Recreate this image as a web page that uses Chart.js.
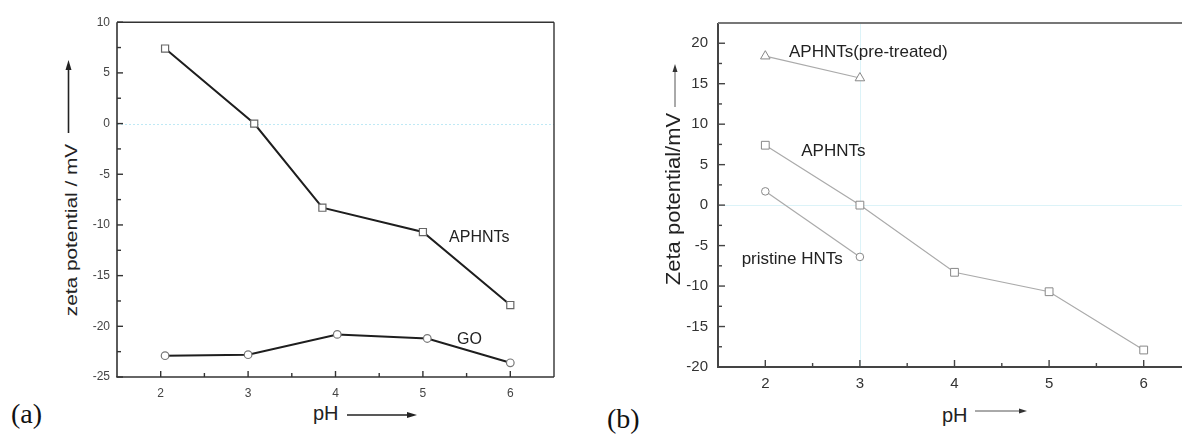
<!DOCTYPE html>
<html>
<head>
<meta charset="utf-8">
<script src="https://cdn.jsdelivr.net/npm/chart.js@4.4.0/dist/chart.umd.min.js"></script>
<style>
  html, body { margin: 0; padding: 0; background: #fff; }
  body { width: 1182px; height: 436px; overflow: hidden; position: relative; font-family: Arial, "Liberation Sans", sans-serif; }
  canvas { position: absolute; }
  #chartA { left: 80px; top: 8px; }
  #chartB { left: 680px; top: 4px; }
  .txt { position: absolute; white-space: nowrap; line-height: 1; color: #222; }
  .serif { font-family: "Liberation Serif", "Times New Roman", serif; font-size: 28px; color: #111; }
  svg { position: absolute; left: 0; top: 0; }
</style>
</head>
<body>
<canvas id="chartA" width="490" height="394"></canvas>
<canvas id="chartB" width="530" height="396"></canvas>

<!-- axis titles -->
<div class="txt" style="left:72px; top:230px; font-size:16px; transform:translate(-50%,-50%) rotate(-90deg) scaleX(1.3);">zeta potential / mV</div>
<div class="txt" style="left:313px; top:403px; font-size:20px;">pH</div>
<div class="txt" style="left:673px; top:199px; font-size:20px; transform:translate(-50%,-50%) rotate(-90deg) scaleX(1.1);">Zeta potential/mV</div>
<div class="txt" style="left:942px; top:405px; font-size:20px;">pH</div>
<div class="txt serif" style="left:11px; top:400px;">(a)</div>
<div class="txt serif" style="left:607px; top:405px;">(b)</div>

<svg width="1182" height="436">
  <g stroke="#222" stroke-width="1.6" fill="#222">
    <line x1="68.5" y1="133" x2="68.5" y2="68" />
    <polygon points="68.5,60 65.5,70 71.5,70" stroke="none" />
    <line x1="347" y1="415" x2="409" y2="415" />
    <polygon points="417,415 407,412 407,418" stroke="none" />
  </g>
  <g stroke="#555" stroke-width="1" fill="#333">
    <line x1="675" y1="107" x2="675" y2="71" />
    <polygon points="675,64 672.5,72 677.5,72" stroke="none" />
    <line x1="975" y1="411" x2="1020" y2="411" />
    <polygon points="1027,411 1019,408.5 1019,413.5" stroke="none" />
  </g>
</svg>

<script>
// (a) APHNTs and GO
const phApA = [2.05, 3.07, 3.85, 5.0, 6.0];
const aphntsA = [7.4, 0, -8.3, -10.7, -17.9];
const phGoA = [2.05, 3.0, 4.02, 5.05, 6.0];
const goA = [-22.9, -22.8, -20.8, -21.2, -23.6];
const xTicksA = [2, 3, 4, 5, 6];
const yTicksA = [-25, -20, -15, -10, -5, 0, 5, 10];

// (b) pre-treated, APHNTs, pristine HNTs
const phPreB = [2, 3];
const preTreatedB = [18.4, 15.7];
const phApB = [2, 3, 4, 5, 6];
const aphntsB = [7.4, 0, -8.3, -10.7, -17.9];
const phHntB = [2, 3];
const pristineB = [1.7, -6.4];
const xTicksB = [2, 3, 4, 5, 6];
const yTicksB = [-20, -15, -10, -5, 0, 5, 10, 15, 20];

const FONT = 'Arial, "Liberation Sans", sans-serif';

function toPoints(xs, ys) {
  return xs.map((x, i) => ({ x: x, y: ys[i] }));
}

function midpoints(arr) {
  const out = [];
  for (let i = 0; i < arr.length - 1; i++) out.push((arr[i] + arr[i + 1]) / 2);
  return out;
}

// frame, inward ticks, reference lines and in-plot labels
function makeFrame(o) {
  return {
    id: 'frame',
    beforeDatasetsDraw(chart) {
      const { ctx, chartArea: a, scales: { x, y } } = chart;
      ctx.save();
      ctx.strokeStyle = o.refColor;
      ctx.lineWidth = 1;
      ctx.setLineDash(o.refDash);
      o.refY.forEach(v => {
        const py = Math.round(y.getPixelForValue(v)) + 0.5;
        ctx.beginPath(); ctx.moveTo(a.left, py); ctx.lineTo(a.right, py); ctx.stroke();
      });
      o.refX.forEach(v => {
        const px = Math.round(x.getPixelForValue(v)) + 0.5;
        ctx.beginPath(); ctx.moveTo(px, a.top); ctx.lineTo(px, a.bottom); ctx.stroke();
      });
      ctx.setLineDash([]);

      ctx.strokeStyle = o.axisColor;
      ctx.lineWidth = o.tickWidth;
      const tick = (x1, y1, x2, y2) => { ctx.beginPath(); ctx.moveTo(x1, y1); ctx.lineTo(x2, y2); ctx.stroke(); };
      o.xTicks.forEach(v => { const px = x.getPixelForValue(v); tick(px, a.bottom, px, a.bottom - o.major); });
      midpoints(o.xTicks).forEach(v => { const px = x.getPixelForValue(v); tick(px, a.bottom, px, a.bottom - o.minor); });
      o.yTicks.forEach(v => { const py = y.getPixelForValue(v); tick(a.left, py, a.left + o.major, py); });
      midpoints(o.yTicks).forEach(v => { const py = y.getPixelForValue(v); tick(a.left, py, a.left + o.minor, py); });

      ctx.lineWidth = o.axisWidth;
      tick(a.left, a.top, a.left, a.bottom);
      tick(a.left - o.axisWidth / 2, a.bottom, a.right, a.bottom);
      ctx.strokeStyle = o.frameColor;
      ctx.lineWidth = o.frameWidth;
      tick(a.left, a.top, a.right, a.top);
      if (o.right) tick(a.right, a.top, a.right, a.bottom);

      ctx.fillStyle = '#222';
      ctx.font = o.labelFont;
      ctx.textBaseline = 'middle';
      ctx.textAlign = 'left';
      o.labels.forEach(l => ctx.fillText(l.text, x.getPixelForValue(l.x), y.getPixelForValue(l.y)));
      ctx.restore();
    }
  };
}

function axes(o) {
  return {
    x: {
      type: 'linear', min: o.xMin, max: o.xMax,
      afterFit: s => { s.height = o.xHeight; },
      afterBuildTicks: s => { s.ticks = o.xTicks.map(v => ({ value: v })); },
      grid: { display: false, drawTicks: false }, border: { display: false },
      ticks: { padding: o.xPad, color: o.tickColor, font: { size: o.tickSize, family: FONT } }
    },
    y: {
      min: o.yMin, max: o.yMax,
      afterFit: s => { s.width = o.yWidth; },
      afterBuildTicks: s => { s.ticks = o.yTicks.map(v => ({ value: v })); },
      grid: { display: false, drawTicks: false }, border: { display: false },
      ticks: { padding: o.yPad, color: o.tickColor, font: { size: o.tickSize, family: FONT } }
    }
  };
}

const baseOptions = {
  responsive: false,
  animation: false,
  events: [],
  plugins: { legend: { display: false }, tooltip: { enabled: false } }
};

new Chart(document.getElementById('chartA').getContext('2d'), {
  type: 'line',
  data: {
    datasets: [
      {
        data: toPoints(phApA, aphntsA),
        borderColor: '#1e1e1e', borderWidth: 2, tension: 0,
        pointStyle: 'rect', pointRadius: 5, pointBorderWidth: 1.2,
        pointBorderColor: '#666', pointBackgroundColor: '#fff'
      },
      {
        data: toPoints(phGoA, goA),
        borderColor: '#1e1e1e', borderWidth: 2, tension: 0,
        pointStyle: 'circle', pointRadius: 3.8, pointBorderWidth: 1.2,
        pointBorderColor: '#777', pointBackgroundColor: '#fff'
      }
    ]
  },
  options: Object.assign({}, baseOptions, {
    layout: { padding: { top: 12, right: 16, left: 0, bottom: 0 } },
    scales: axes({
      xMin: 1.5, xMax: 6.5, yMin: -25, yMax: 10, xTicks: xTicksA, yTicks: yTicksA,
      xHeight: 25, yWidth: 37, xPad: 9, yPad: 7, tickColor: '#444', tickSize: 12
    })
  }),
  plugins: [makeFrame({
    xTicks: xTicksA, yTicks: yTicksA, refX: [], refY: [0],
    refColor: '#bfe9f5', refDash: [2, 2],
    axisColor: '#333', axisWidth: 1.6, tickWidth: 1.4, major: 6, minor: 4,
    frameColor: '#333', frameWidth: 1.4, right: true,
    labelFont: '16px ' + FONT,
    labels: [{ text: 'APHNTs', x: 5.3, y: -11.25 }, { text: 'GO', x: 5.39, y: -21.3 }]
  })]
});

new Chart(document.getElementById('chartB').getContext('2d'), {
  type: 'line',
  data: {
    datasets: [
      {
        data: toPoints(phPreB, preTreatedB),
        borderColor: '#aaa', borderWidth: 1.2, tension: 0,
        pointStyle: 'triangle', pointRadius: 5.5, pointBorderWidth: 1,
        pointBorderColor: '#888', pointBackgroundColor: '#fff'
      },
      {
        data: toPoints(phApB, aphntsB),
        borderColor: '#aaa', borderWidth: 1.2, tension: 0,
        pointStyle: 'rect', pointRadius: 5.5, pointBorderWidth: 1,
        pointBorderColor: '#888', pointBackgroundColor: '#fff'
      },
      {
        data: toPoints(phHntB, pristineB),
        borderColor: '#aaa', borderWidth: 1.2, tension: 0,
        pointStyle: 'circle', pointRadius: 3.8, pointBorderWidth: 1,
        pointBorderColor: '#888', pointBackgroundColor: '#fff'
      }
    ]
  },
  options: Object.assign({}, baseOptions, {
    layout: { padding: { top: 11, right: 19, left: 0, bottom: 0 } },
    scales: axes({
      xMin: 1.5, xMax: 6.5, yMin: -20, yMax: 22.5, xTicks: xTicksB, yTicks: yTicksB,
      xHeight: 33, yWidth: 38, xPad: 8, yPad: 10, tickColor: '#333', tickSize: 15
    })
  }),
  plugins: [makeFrame({
    xTicks: xTicksB, yTicks: yTicksB, refX: [3], refY: [0],
    refColor: '#dcf3f8', refDash: [],
    axisColor: '#444', axisWidth: 2, tickWidth: 1.4, major: 7, minor: 4,
    frameColor: '#777', frameWidth: 2, right: false,
    labelFont: '17px ' + FONT,
    labels: [
      { text: 'APHNTs(pre-treated)', x: 2.25, y: 18.9 },
      { text: 'APHNTs', x: 2.38, y: 6.6 },
      { text: 'pristine HNTs', x: 1.75, y: -6.7 }
    ]
  })]
});
</script>
</body>
</html>
